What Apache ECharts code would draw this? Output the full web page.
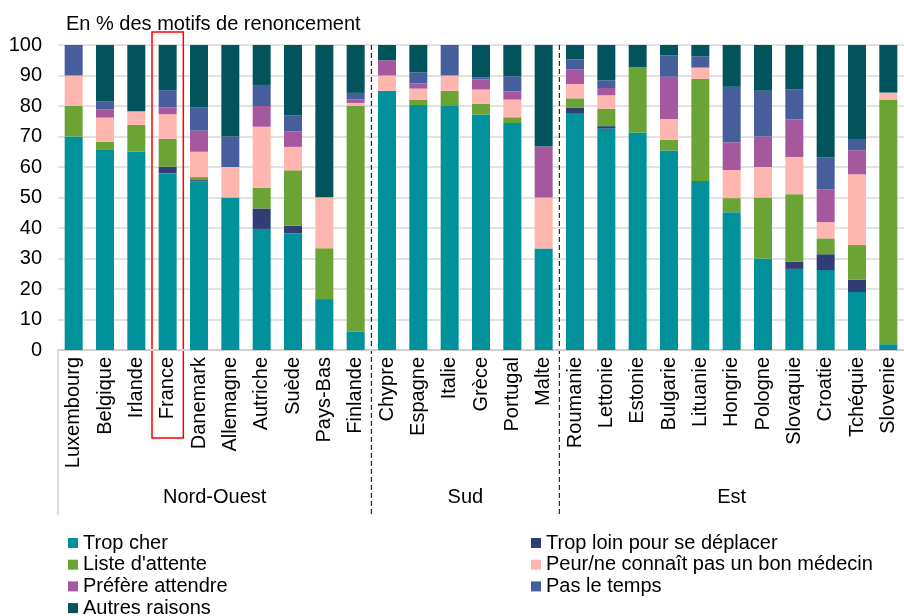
<!DOCTYPE html>
<html><head><meta charset="utf-8">
<script src="https://cdn.jsdelivr.net/npm/echarts@6/dist/echarts.min.js"></script>
<style>html,body{margin:0;padding:0;background:#fff}#c{width:904px;height:616px}</style>
</head><body><div id="c"></div>
<script>
const countries = ['Luxembourg','Belgique','Irlande','France','Danemark','Allemagne','Autriche','Suède','Pays-Bas','Finlande',
  'Chypre','Espagne','Italie','Grèce','Portugal','Malte',
  'Roumanie','Lettonie','Estonie','Bulgarie','Lituanie','Hongrie','Pologne','Slovaquie','Croatie','Tchéquie','Slovenie'];
const groups = [['Nord-Ouest',0,9],['Sud',10,15],['Est',16,26]];
const highlighted = 'France';
const yTicks = {min:0, max:100, interval:10};

const tropCher = [70,65.8,65,57.9,55.2,50,39.7,38.3,16.7,6.0, 85,80.3,80,77.2,74.4,33.3, 77.7,72.6,71.3,65.4,55.4,45.2,30,26.6,26.2,19,1.9];
const tropLoin = [0,0,0,2.2,0.5,0,6.7,2.5,0,0, 0,0,0,0,0,0, 1.8,0.8,0,0,0,0,0,2.4,5.2,4,0];
const listeAttente = [10,2.4,8.8,9.1,1.0,0,6.8,18.1,16.7,74, 0,1.8,5,3.5,1.9,0, 3.0,5.7,21.5,3.5,33.5,4.6,20,22.1,5.2,11.4,80.2];
const peur = [10,8.0,4.5,8.1,8.3,10,20,7.7,16.7,1.0, 5,3.6,5,4.7,5.8,16.7, 4.7,4.4,0,6.8,3.7,9.2,10,12.2,5.3,23.2,2.3];
const prefere = [0,2.7,0,2.2,6.9,0,6.8,5.1,0,1.2, 5,1.7,0,3.3,2.7,16.7, 4.8,2.4,0,13.9,0,9.1,10,12.3,10.7,7.9,0];
const pasTemps = [10,2.7,0,5.7,7.7,10,6.9,5.2,0,2.1, 0,3.6,10,0.7,4.9,0, 3.3,2.5,0,7.0,3.7,18.2,15,9.9,10.6,3.7,0];
const autres = [0,18.4,21.7,14.8,20.4,30,13.1,23.1,50,15.7, 5,9,0,10.6,10.3,33.3, 4.7,11.6,7.2,3.4,3.7,13.7,15,14.5,36.8,30.8,15.6];

const seriesDefs = [
  ['Trop cher', tropCher, '#00919A'],
  ['Trop loin pour se déplacer', tropLoin, '#2F3F76'],
  ["Liste d'attente", listeAttente, '#6BA434'],
  ['Peur/ne connaît pas un bon médecin', peur, '#FFB6AE'],
  ['Préfère attendre', prefere, '#A6589F'],
  ['Pas le temps', pasTemps, '#465E9C'],
  ['Autres raisons', autres, '#01545B']
];
const FONT = 'Liberation Sans, Arial, sans-serif';
const FS = 20;

const chart = echarts.init(document.getElementById('c'), null, {renderer:'canvas'});
const legendText = {fontFamily:FONT, fontSize:FS, color:'#000'};
chart.setOption({
  animation:false,
  title:{text:'En % des motifs de renoncement', left:61, top:9, textStyle:{fontFamily:FONT, fontSize:FS, fontWeight:'normal', color:'#000'}},
  grid:{left:58, right:-3, top:45, bottom:266},
  legend:[
    {orient:'vertical', left:68, top:533, height:120, padding:0, itemWidth:10, itemHeight:10, itemGap:1.7, icon:'rect', textStyle:legendText,
     data:['Trop cher',"Liste d'attente",'Préfère attendre','Autres raisons']},
    {orient:'vertical', left:531, top:533, height:120, padding:0, itemWidth:10, itemHeight:10, itemGap:1.7, icon:'rect', textStyle:legendText,
     data:['Trop loin pour se déplacer','Peur/ne connaît pas un bon médecin','Pas le temps']}
  ],
  xAxis:{type:'category', data:countries,
    axisLine:{lineStyle:{color:'#D0D0D0', width:2}}, axisTick:{show:false},
    axisLabel:{rotate:90, interval:0, margin:7, fontFamily:FONT, fontSize:FS, color:'#000'}},
  yAxis:{type:'value', min:yTicks.min, max:yTicks.max, interval:yTicks.interval,
    axisLine:{show:false}, axisTick:{show:false},
    splitLine:{lineStyle:{color:'#D9D9D9', width:1.5}},
    axisLabel:{margin:16, fontFamily:FONT, fontSize:FS, color:'#000'}},
  series: seriesDefs.map(([name,data,color]) => ({
    name, type:'bar', stack:'s', data, barWidth:18,
    itemStyle:{color}, emphasis:{disabled:true}
  }))
});

// Overlay: group separators, group labels, highlight box (positions derived from axes)
const px = i => chart.convertToPixel({xAxisIndex:0}, i);
const yTop = chart.convertToPixel({yAxisIndex:0}, yTicks.max);
const yBot = chart.convertToPixel({yAxisIndex:0}, yTicks.min);
const band = px(1) - px(0);
const leftEdge = px(0) - band/2;
const g = [];
g.push({type:'line', shape:{x1:leftEdge, y1:yBot, x2:leftEdge, y2:515}, style:{stroke:'#D0D0D0', lineWidth:1.5}});
groups.forEach(([name,a,b], k) => {
  const x0 = px(a) - band/2, x1 = px(b) + band/2;
  g.push({type:'text', x:(x0+x1)/2, y:497, style:{text:name, fontFamily:FONT, fontSize:FS, fill:'#000', textAlign:'center', textVerticalAlign:'middle'}});
  if (k < groups.length-1) {
    g.push({type:'line', shape:{x1:x1, y1:yTop, x2:x1, y2:515}, style:{stroke:'#000', lineWidth:1, lineDash:[5,3]}});
  }
});
const hi = countries.indexOf(highlighted);
g.push({type:'rect', shape:{x:px(hi)-band/2, y:yTop-13, width:band, height:438-(yTop-13)}, style:{fill:null, stroke:'#FF0000', lineWidth:1.5}});
chart.setOption({graphic:g});
</script>
</body></html>
